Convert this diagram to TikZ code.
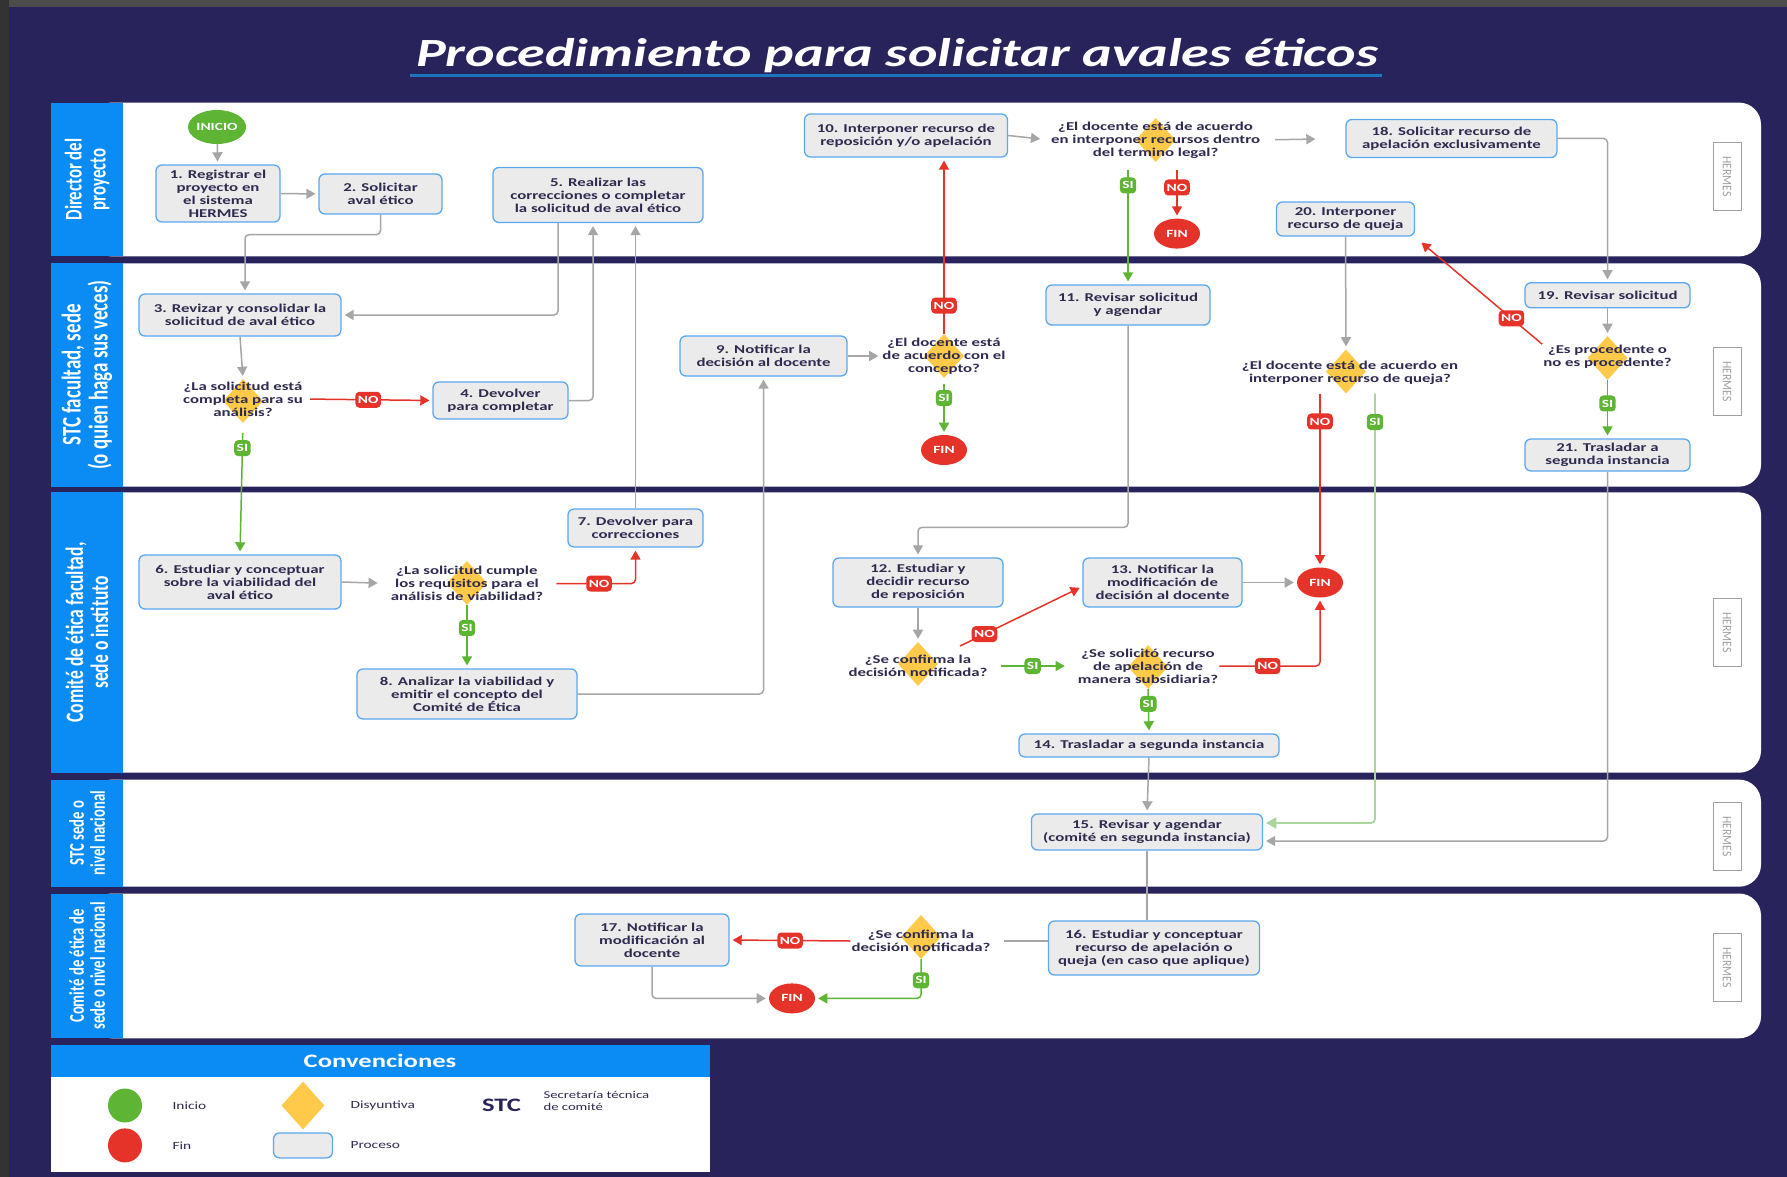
\documentclass[tikz,border=0pt]{standalone}
\usepackage{fontspec}
\setmainfont{Carlito}[FakeStretch=1.4]
\newfontfamily\lanefont{Carlito}[FakeStretch=0.7]
\newfontfamily\tagfont{Carlito}[FakeStretch=0.9]
\usepackage{tikz}
\usetikzlibrary{arrows,shapes.geometric}

\definecolor{bgnavy}{HTML}{29235C}
\definecolor{laneblue}{HTML}{0B8CF5}
\definecolor{boxgray}{HTML}{EBEBEB}
\definecolor{boxblue}{HTML}{5AA8F0}
\definecolor{diayellow}{HTML}{FFC94A}
\definecolor{okgreen}{HTML}{5DB533}
\definecolor{okgreenlight}{HTML}{A9D69A}
\definecolor{nored}{HTML}{E6332A}
\definecolor{flowgray}{HTML}{A6A6A6}
\definecolor{txtdark}{HTML}{2E2B4F}
\definecolor{titleline}{HTML}{1C75BC}
\definecolor{taggray}{HTML}{A0A0A0}

\begin{document}
\begin{tikzpicture}[x=1pt,y=-1pt,
  proc/.style={draw=boxblue,fill=boxgray,line width=1.3pt,rounded corners=6pt,align=center,inner sep=2pt,text=txtdark,font=\fontsize{12}{13}\selectfont\bfseries},
  dia/.style={diamond,fill=diayellow,inner sep=0pt,minimum width=40pt,minimum height=44pt},
  qtext/.style={align=center,inner sep=1pt,text=txtdark,font=\fontsize{12}{13}\selectfont\bfseries},
  fin/.style={ellipse,fill=nored,text=white,minimum width=46pt,minimum height=30pt,inner sep=0pt,font=\fontsize{11}{11}\selectfont\bfseries},
  flow/.style={draw=flowgray,line width=1.5pt,rounded corners=4pt,-triangle 60,shorten >=3pt},
  plain/.style={draw=flowgray,line width=1.5pt},
  noflow/.style={draw=nored,line width=1.5pt,rounded corners=4pt,-triangle 60,shorten >=3pt},
  siflow/.style={draw=okgreen,line width=1.5pt,rounded corners=4pt,-triangle 60,shorten >=3pt},
  silight/.style={draw=okgreenlight,line width=1.8pt,rounded corners=4pt,-triangle 60,shorten >=3pt},
  nolab/.style={fill=nored,text=white,inner sep=2.5pt,minimum height=16pt,font=\fontsize{11}{11}\selectfont\bfseries},
  silab/.style={fill=okgreen,text=white,inner sep=2.5pt,minimum height=16pt,font=\fontsize{11}{11}\selectfont\bfseries},
  lanehead/.style={text=white,align=center,rotate=90,font=\lanefont\bfseries\fontsize{#1}{#1}\selectfont},
  lanehead/.default=24,
  tag/.style={draw=taggray,line width=1pt,text=taggray,minimum width=68pt,minimum height=28pt,inner sep=0pt,font=\tagfont\fontsize{13}{13}\selectfont}
]
\useasboundingbox (0,0) rectangle (1787,1177);
\fill[bgnavy] (0,0) rectangle (1787,1177);
\fill[black!70] (0,0) rectangle (1787,7);
\fill[black!80] (0,0) rectangle (9,1177);

\node[text=white,font=\fontsize{40}{44}\selectfont\bfseries\itshape] (title) at (897,56) {Procedimiento para solicitar avales éticos};
\draw[titleline,line width=3pt] (410,76) -- (1382,76);

\foreach \ya/\yb in {102.6/256.4,263.3/486.6,492.4/772.7,779.6/886.7,893.5/1038.3}{
  \fill[white,rounded corners=22pt] (90,\ya) rectangle (1761,\yb);
  \fill[laneblue] (51,\ya) rectangle (123,\yb);
}
\node[lanehead] (l1) at (87,179.5) {Director del\\proyecto};
\node[lanehead=27] (l2) at (87,375) {STC facultad, sede\\(o quien haga sus veces)};
\node[lanehead=25] (l3) at (87,632.5) {Comité de ética facultad,\\sede o instituto};
\node[lanehead=21] (l4) at (87,833) {STC sede o\\nivel nacional};
\node[lanehead=21] (l5) at (87,966) {Comité de ética de\\sede o nivel nacional};
\foreach \y [count=\i] in {176.7,381.8,632.5,836.5,967.6}
  \node[tag,rotate=-90] (h\i) at (1727,\y) {HERMES};

\node[ellipse,fill=okgreen,text=white,minimum width=57pt,minimum height=34pt,inner sep=0pt,font=\fontsize{11}{11}\selectfont\bfseries] (ini) at (217,127) {INICIO};
\node[proc,minimum width=124pt,minimum height=57pt] (p1) at (218,193.5) {1. Registrar el\\proyecto en\\el sistema\\HERMES};
\node[proc,minimum width=123pt,minimum height=40pt] (p2) at (380.5,194) {2. Solicitar\\aval ético};
\node[proc,minimum width=210pt,minimum height=55pt] (p5) at (598,195) {5. Realizar las\\correcciones o completar\\la solicitud de aval ético};
\node[proc,minimum width=203pt,minimum height=43pt] (p10) at (906,135.5) {10. Interponer recurso de\\reposición y/o apelación};
\node[dia] (q10) at (1155.6,140) {};
\node[qtext] (q10t) at (1155.6,140) {¿El docente está de acuerdo\\en interponer recursos dentro\\del termino legal?};
\node[proc,minimum width=211pt,minimum height=38pt] (p18) at (1451.5,138.5) {18. Solicitar recurso de\\apelación exclusivamente};
\node[fin] (f1) at (1177,233.6) {FIN};
\node[proc,minimum width=138pt,minimum height=34pt] (p20) at (1345.5,219) {20. Interponer\\recurso de queja};

\node[proc,minimum width=202pt,minimum height=42pt] (p3) at (240,315) {3. Revizar y consolidar la\\solicitud de aval ético};
\node[dia] (q3) at (243,401) {};
\node[qtext] (q3t) at (243,399) {¿La solicitud está\\completa para su\\análisis?};
\node[proc,minimum width=135pt,minimum height=37pt] (p4) at (500.5,400.5) {4. Devolver\\para completar};
\node[proc,minimum width=167pt,minimum height=40pt] (p9) at (763.5,356) {9. Notificar la\\decisión al docente};
\node[dia] (q9) at (944,356) {};
\node[qtext] (q9t) at (944,356) {¿El docente está\\de acuerdo con el\\concepto?};
\node[fin] (f2) at (944,450) {FIN};
\node[proc,minimum width=164pt,minimum height=40pt] (p11) at (1128,305) {11. Revisar solicitud\\y agendar};
\node[dia] (q20) at (1346,371.5) {};
\node[qtext] (q20t) at (1350,372.5) {¿El docente está de acuerdo en\\interponer recurso de queja?};
\node[proc,minimum width=165pt,minimum height=25pt] (p19) at (1607.5,295.3) {19. Revisar solicitud};
\node[dia] (q19) at (1607.5,358) {};
\node[qtext] (q19t) at (1607.5,357) {¿Es procedente o\\no es procedente?};
\node[proc,minimum width=165pt,minimum height=32pt] (p21) at (1607.5,455) {21. Trasladar a\\segunda instancia};

\node[proc,minimum width=202pt,minimum height=54pt] (p6) at (240,582) {6. Estudiar y conceptuar\\sobre la viabilidad del\\aval ético};
\node[dia] (q6) at (467,583) {};
\node[qtext] (q6t) at (467,583.5) {¿La solicitud cumple\\los requisitos para el\\análisis de viabilidad?};
\node[proc,minimum width=135pt,minimum height=38pt] (p7) at (635.5,528) {7. Devolver para\\correcciones};
\node[proc,minimum width=220pt,minimum height=50pt] (p8) at (467,694) {8. Analizar la viabilidad y\\emitir el concepto del\\Comité de Ética};
\node[proc,minimum width=170pt,minimum height=49pt] (p12) at (918,582.5) {12. Estudiar y\\decidir recurso\\de reposición};
\node[dia] (q12) at (918,664) {};
\node[qtext] (q12t) at (918,666) {¿Se confirma la\\decisión notificada?};
\node[proc,minimum width=159pt,minimum height=49pt] (p13) at (1162.5,582.5) {13. Notificar la\\modificación de\\decisión al docente};
\node[fin] (f3) at (1320,582.5) {FIN};
\node[dia] (q13) at (1148,667) {};
\node[qtext] (q13t) at (1148,666) {¿Se solicitó recurso\\de apelación de\\manera subsidiaria?};
\node[proc,minimum width=260pt,minimum height=23pt] (p14) at (1149,745.5) {14. Trasladar a segunda instancia};

\node[proc,minimum width=231pt,minimum height=36pt] (p15) at (1147,832) {15. Revisar y agendar\\(comité en segunda instancia)};
\node[proc,minimum width=211pt,minimum height=54pt] (p16) at (1154,948) {16. Estudiar y conceptuar\\recurso de apelación o\\queja (en caso que aplique)};
\node[dia] (q16) at (921,937) {};
\node[qtext] (q16t) at (921,941) {¿Se confirma la\\decisión notificada?};
\node[proc,minimum width=154pt,minimum height=52pt] (p17) at (652,940) {17. Notificar la\\modificación al\\docente};
\node[fin] (f4) at (792,998.4) {FIN};

\draw[flow] (ini) -- (p1);
\draw[flow] (p1) -- (p2);
\draw[flow] (p2.south) -- ++(0,20) -| ([xshift=5pt]p3.north);
\draw[flow] ([xshift=-40pt]p5.south) |- (p3.east);
\draw[flow] (p3.south) -- (q3.north);
\draw[noflow,shorten <=6pt] (q3t.east) -- node[nolab] (n1) {NO} (p4.west);
\draw[flow] (p4.east) -| ([xshift=-5pt]p5.south);
\draw[siflow,shorten <=10pt] (q3.south) -- node[silab,pos=0.19] (s1) {SI} (p6.north);
\draw[flow,shorten >=12pt] (p6.east) -- (q6t.west);
\draw[noflow,shorten <=12pt] (q6t.east) -| node[nolab,pos=0.3] (n2) {NO} (p7.south);
\draw[flow] (p7.north) -- (p7.north |- p5.south);
\draw[siflow] (q6.south) -- node[silab,pos=0.36] (s2) {SI} (p8.north);
\draw[flow] (p8.east) -| (p9.south);
\draw[flow] (p9.east) -- (q9t.west);
\draw[noflow] (q9.north) -- node[nolab,pos=0.16] (n3) {NO} (q9.north |- p10.south);
\draw[siflow,shorten <=6pt] (q9.south) -- node[silab,pos=0.35] (s3) {SI} (f2.north);
\draw[flow,shorten >=10pt] (p10.east) -- (q10t.west);
\draw[flow,shorten <=14pt,shorten >=30pt] (q10t.east) -- (p18.west);
\draw[siflow,shorten <=8pt] (q10.south -| p11.north) -- node[silab,pos=0.19] (s4) {SI} (p11.north);
\draw[noflow,shorten <=8pt] (q10.south -| f1.north) -- node[nolab,pos=0.45] (n4) {NO} (f1.north);
\draw[flow] (p18.east) -| (p19.north);
\draw[flow] (p19.south) -- (q19.north);
\draw[noflow] (q19t.north west) -- node[nolab,pos=0.25] (n6) {NO} ([shift={(4,4)}]p20.south east);
\draw[siflow] (q19.south) -- node[silab,pos=0.4] (s6) {SI} (p21.north);
\draw[flow] (p20.south) -- (q20.north);
\draw[noflow] (q20.south -| f3.north) -- node[nolab,pos=0.16] (n5) {NO} (f3.north);
\draw[silight] ([xshift=29pt]q20.south) |- node[silab,pos=0.033] (s5) {SI} ([yshift=9pt]p15.east);
\draw[flow] (p11.south) |- ([yshift=30pt]p12.north) -- (p12.north);
\draw[flow] (p12.south) -- (q12.north);
\draw[noflow] ([xshift=42pt,yshift=18pt]q12.center) -- node[nolab,pos=0.2] (n7) {NO} ([yshift=-4pt]p13.west);
\draw[siflow,shorten <=12pt,shorten >=12pt] (q12t.east) -- node[silab] (s7) {SI} (q13t.west);
\draw[noflow] (q13t.east) -| node[nolab,pos=0.24] (n8) {NO} (f3.south);
\draw[flow] (p13.east) -- (f3.west);
\draw[siflow] (q13.south) -- node[silab,pos=0.33] (s8) {SI} (p14.north);
\draw[flow] (p14.south) -- (p15.north);
\draw[flow] (p21.south) |- ([yshift=-9pt]p15.east);
\draw[plain] (p15.south) -- (p15.south |- p16.north);
\draw[plain] (q16t.east -| p16.west) -- ([xshift=12pt]q16t.east);
\draw[noflow] (q16t.west) -- node[nolab] (n9) {NO} (p17.east);
\draw[siflow] (q16.south) |- node[silab,pos=0.27] (s9) {SI} (f4.east);
\draw[flow] (p17.south) |- (f4.west);

\fill[laneblue] (51,1045) rectangle (710,1077);
\fill[white] (51,1077) rectangle (710,1172);
\node[text=white,font=\fontsize{19}{20}\selectfont\bfseries] (conv) at (380,1061) {Convenciones};
\node[ellipse,fill=okgreen,minimum width=34pt,minimum height=34pt] (kini) at (125,1105.5) {};
\node[anchor=west,text=txtdark,font=\fontsize{11}{12}\selectfont] (kinit) at (169,1105.5) {Inicio};
\node[ellipse,fill=nored,minimum width=34pt,minimum height=34pt] (kfin) at (125,1145.4) {};
\node[anchor=west,text=txtdark,font=\fontsize{11}{12}\selectfont] (kfint) at (169,1145.4) {Fin};
\node[diamond,fill=diayellow,inner sep=0pt,minimum width=43pt,minimum height=48pt] (kdia) at (303,1105.5) {};
\node[anchor=west,text=txtdark,font=\fontsize{11}{12}\selectfont] (kdiat) at (347,1105.5) {Disyuntiva};
\node[proc,minimum width=59pt,minimum height=25pt] (kproc) at (303,1145.4) {};
\node[anchor=west,text=txtdark,font=\fontsize{11}{12}\selectfont] (kproct) at (347,1145.4) {Proceso};
\node[text=bgnavy,font=\fontsize{19}{20}\selectfont\bfseries] (kstc) at (501.5,1105.5) {STC};
\node[anchor=west,align=left,text=txtdark,font=\fontsize{10.5}{11.5}\selectfont] (kstct) at (540,1101) {Secretaría técnica\\de comité};
\end{tikzpicture}
\end{document}
